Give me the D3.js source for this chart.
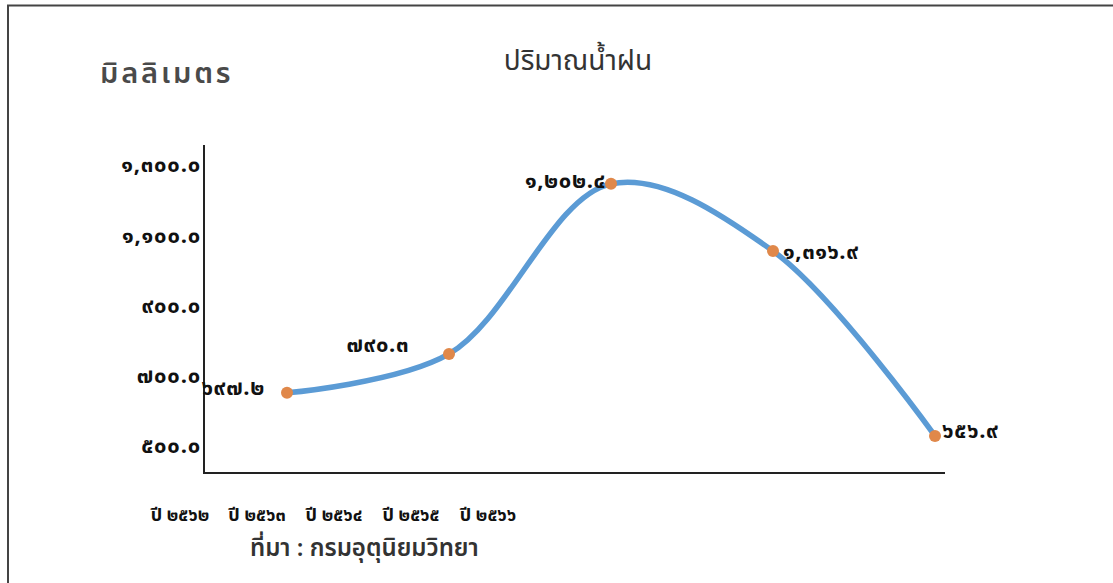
<!DOCTYPE html>
<html><head><meta charset="utf-8">
<script src="https://cdn.jsdelivr.net/npm/d3@7/dist/d3.min.js"></script>
<style>
html,body{margin:0;padding:0;background:#fff;}
svg{display:block;font-family:"Noto Sans Thai","Noto Sans","DejaVu Sans",sans-serif;}
</style></head>
<body><svg id="c" width="1113" height="583"></svg>
<script>
// data
const years = ["ปี ๒๕๖๒","ปี ๒๕๖๓","ปี ๒๕๖๔","ปี ๒๕๖๕","ปี ๒๕๖๖"];
const plotted = [649, 760, 1246, 1054, 526];          // positions as drawn in the picture
const valueLabels = ["๖๙๗.๒","๗๙๐.๓","๑,๒๐๒.๔","๑,๓๑๖.๙","๖๕๖.๙"];
const tickValues = [500, 700, 900, 1100, 1300];
const tickLabels = ["๕๐๐.๐","๗๐๐.๐","๙๐๐.๐","๑,๑๐๐.๐","๑,๓๐๐.๐"];
const title = "ปริมาณน้ำฝน";
const unit = "มิลลิเมตร";
const source = "ที่มา : กรมอุตุนิยมวิทยา";

const svg = d3.select("#c");
// frame
svg.append("path").attr("d","M8,583 V5.5 H1113").attr("fill","none").attr("stroke","#444").attr("stroke-width",2);

const y = d3.scaleLinear().domain([420,1357]).range([473,145]);
const x = d3.scalePoint().domain(d3.range(years.length)).range([287,935]);
const xl = d3.scalePoint().domain(years).range([180,488]);

// axes lines
svg.append("path").attr("d",`M204,${y(1357)} V473 H945`).attr("fill","none").attr("stroke","#222").attr("stroke-width",2);

// y tick labels
const yAxis = d3.axisLeft(y).tickValues(tickValues).tickSize(0).tickPadding(3)
  .tickFormat((d,i)=>tickLabels[i]);
const ga = svg.append("g").attr("transform","translate(204,0)").call(yAxis);
ga.select(".domain").remove();
ga.selectAll("text").attr("font-size",22).attr("font-weight","bold").attr("fill","#111")
  .attr("letter-spacing",0.8)
  .attr("font-family",'"Noto Sans Thai","Noto Sans","DejaVu Sans",sans-serif');

// line
const line = d3.line().x((d,i)=>x(i)).y(d=>y(d)).curve(d3.curveCatmullRom.alpha(0.5));
svg.append("path").datum(plotted).attr("d",line).attr("fill","none")
  .attr("stroke","#5b9bd5").attr("stroke-width",5.5).attr("stroke-linecap","round");

// points
svg.selectAll("circle.p").data(plotted).join("circle").attr("class","p")
  .attr("cx",(d,i)=>x(i)).attr("cy",d=>y(d)).attr("r",6).attr("fill","#e0884a");

// value labels
const off = [[-22,-4,"end"],[-40,-8,"end"],[-5,-2,"end"],[10,2,"start"],[7,-4,"start"]];
svg.selectAll("text.v").data(plotted).join("text").attr("class","v")
  .attr("x",(d,i)=>x(i)+off[i][0]).attr("y",(d,i)=>y(d)+off[i][1])
  .attr("text-anchor",(d,i)=>off[i][2]).attr("dominant-baseline","middle")
  .attr("font-size",22).attr("font-weight","bold").attr("fill","#111").attr("letter-spacing",0.6)
  .text((d,i)=>valueLabels[i]);

// x labels
svg.selectAll("text.x").data(years).join("text").attr("class","x")
  .attr("x",d=>xl(d)).attr("y",516).attr("text-anchor","middle").attr("dominant-baseline","middle")
  .attr("font-size",18).attr("font-weight","bold").attr("fill","#111").text(d=>d);

// titles
svg.append("text").attr("x",578).attr("y",62).attr("text-anchor","middle").attr("dominant-baseline","middle")
  .attr("font-size",28).attr("fill","#333").text(title);
svg.append("text").attr("x",100).attr("y",75).attr("dominant-baseline","middle")
  .attr("font-size",29).attr("font-weight",600).attr("fill","#4a4a4a").attr("letter-spacing",2.8).text(unit);
svg.append("text").attr("x",250).attr("y",549).attr("dominant-baseline","middle")
  .attr("font-size",24).attr("font-weight",600).attr("fill","#333").text(source);
</script></body></html>
